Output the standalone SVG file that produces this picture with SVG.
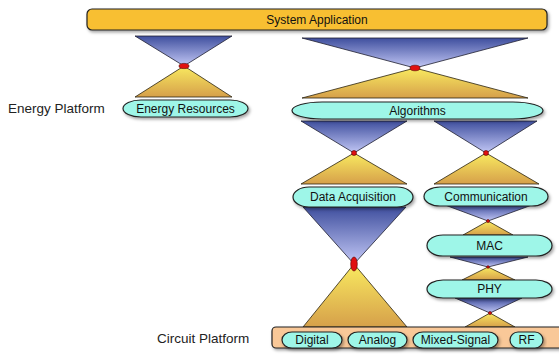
<svg xmlns="http://www.w3.org/2000/svg" width="559" height="356" viewBox="0 0 559 356">
<defs>
<linearGradient id="gBlue" x1="0" y1="0" x2="0" y2="1">
<stop offset="0" stop-color="#3f4f9e"/>
<stop offset="1" stop-color="#c3c8f6"/>
</linearGradient>
<linearGradient id="gGold" x1="0" y1="0" x2="0" y2="1">
<stop offset="0" stop-color="#f9ea60"/>
<stop offset="1" stop-color="#d6a04a"/>
</linearGradient>
<filter id="sh" x="-10%" y="-30%" width="120%" height="170%">
<feDropShadow dx="1.5" dy="2" stdDeviation="1.5" flood-color="#000" flood-opacity="0.35"/>
</filter>
</defs>
<style>
.top{fill:url(#gBlue);stroke:#1e1e2e;stroke-width:0.8}
.bot{fill:url(#gGold);stroke:#2a2210;stroke-width:0.8}
.dot{fill:#e01010;stroke:#500;stroke-width:0.6}
.pill{fill:#9ef6e8;stroke:#222;stroke-width:1.2;filter:url(#sh)}
.bar{stroke:#222;stroke-width:1.2;filter:url(#sh)}
.t{font-family:"Liberation Sans",Arial,sans-serif;font-size:12px;fill:#111;text-anchor:middle;dominant-baseline:central}
.lbl{font-family:"Liberation Sans",Arial,sans-serif;font-size:13.5px;fill:#222}
</style>
<g id="connectors">
<!-- energy -->
<polygon class="top" points="135,36 232,36 184,66"/>
<polygon class="bot" points="184,66 135,97 232,97"/>
<ellipse class="dot" cx="184" cy="66" rx="5" ry="2.6"/>
<!-- system to algorithms -->
<polygon class="top" points="302,38 528,38 415,68"/>
<polygon class="bot" points="415,68 302,98 528,98"/>
<ellipse class="dot" cx="415" cy="68" rx="5" ry="2.8"/>
<!-- algorithms to data acquisition -->
<polygon class="top" points="301,121 407,121 354,153"/>
<polygon class="bot" points="354,153 301,184 407,184"/>
<circle class="dot" cx="354" cy="153" r="2.5"/>
<!-- algorithms to communication -->
<polygon class="top" points="434,121 537,121 486,153"/>
<polygon class="bot" points="486,153 434,184 539,184"/>
<circle class="dot" cx="486" cy="153" r="2.5"/>
<!-- data acquisition to circuit -->
<polygon class="top" points="303,207 406,207 354,264"/>
<polygon class="bot" points="354,264 303,327 407,327"/>
<ellipse class="dot" cx="354" cy="264" rx="3.3" ry="7"/>
<!-- communication to MAC -->
<polygon class="top" points="445,205 532,205 488,221"/>
<polygon class="bot" points="488,221 463,235 513,235"/>
<circle class="dot" cx="488" cy="221" r="1.5"/>
<!-- MAC to PHY -->
<polygon class="top" points="450,257 528,257 488,267"/>
<polygon class="bot" points="488,267 462,280 515,280"/>
<circle class="dot" cx="488" cy="267" r="1.3"/>
<!-- PHY to circuit -->
<polygon class="top" points="455,298 522,298 490,313"/>
<polygon class="bot" points="490,313 465,327 515,327"/>
<circle class="dot" cx="490" cy="313" r="1.5"/>
</g>
<g id="system-application">
<rect class="bar" x="87" y="9" width="460" height="21" rx="5" fill="#f8bf30"/>
<text class="t" x="317" y="19.5">System Application</text>
</g>
<g id="energy-platform-label">
<text class="lbl" x="8" y="113">Energy Platform</text>
</g>
<g id="energy-resources">
<rect class="pill" x="123" y="100" width="125" height="17" rx="18" ry="8.5"/>
<text class="t" x="185.5" y="108.5">Energy Resources</text>
</g>
<g id="algorithms">
<rect class="pill" x="292" y="102" width="251" height="17" rx="30" ry="8.5"/>
<text class="t" x="417.5" y="110.5">Algorithms</text>
</g>
<g id="data-acquisition">
<rect class="pill" x="293" y="187" width="120" height="20" rx="16" ry="10"/>
<text class="t" x="353" y="197">Data Acquisition</text>
</g>
<g id="communication">
<rect class="pill" x="424" y="187" width="124" height="19" rx="16" ry="9.5"/>
<text class="t" x="486" y="196.5">Communication</text>
</g>
<g id="mac">
<rect class="pill" x="427" y="235" width="125" height="21" rx="16" ry="10.5"/>
<text class="t" x="489.5" y="245.5">MAC</text>
</g>
<g id="phy">
<rect class="pill" x="427" y="280" width="125" height="18" rx="16" ry="9"/>
<text class="t" x="489.5" y="289">PHY</text>
</g>
<g id="circuit-platform-label">
<text class="lbl" x="157" y="343">Circuit Platform</text>
</g>
<g id="circuit-platform">
<rect class="bar" x="272" y="327" width="292" height="21" rx="4" fill="#f9c898"/>
</g>
<g id="digital">
<rect class="pill" x="282" y="332" width="60" height="16" rx="10" ry="8"/>
<text class="t" x="312" y="340">Digital</text>
</g>
<g id="analog">
<rect class="pill" x="348" y="332" width="59" height="16" rx="10" ry="8"/>
<text class="t" x="377.5" y="340">Analog</text>
</g>
<g id="mixed-signal">
<rect class="pill" x="413" y="332" width="85" height="16" rx="10" ry="8"/>
<text class="t" x="455.5" y="340">Mixed-Signal</text>
</g>
<g id="rf">
<rect class="pill" x="510" y="332" width="33" height="16" rx="8" ry="8"/>
<text class="t" x="526.5" y="340">RF</text>
</g>
</svg>
